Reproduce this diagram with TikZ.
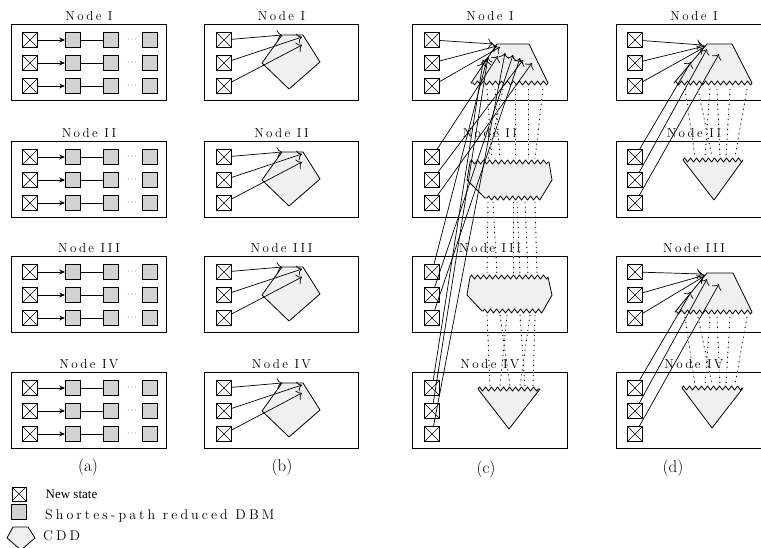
\documentclass[tikz,border=0pt]{standalone}
\usepackage{fontspec}
\setmainfont{Latin Modern Roman}
\newfontfamily\legendfont{Liberation Serif}
\newfontfamily\spacedfont[LetterSpace=18]{Latin Modern Roman}
\newfontfamily\keyspaced[LetterSpace=22]{Latin Modern Roman}
\usetikzlibrary{arrows.meta, positioning, decorations.pathmorphing}
\newcommand{\nodefont}{\spacedfont\fontsize{13}{15}\selectfont}
\newcommand{\keyfont}{\keyspaced\fontsize{14}{16}\selectfont}

\begin{document}
\begin{tikzpicture}[x=1pt, y=-1pt,
    every node/.style={inner sep=0pt},
    nodebox/.style={draw, line width=1pt, minimum width=155, minimum height=76, anchor=north west},
    boxtitle/.style={above=3pt, font=\nodefont},
    crossbox/.style={draw, line width=0.9pt, minimum size=15, path picture={
        \draw[line width=0.6pt] (path picture bounding box.north west) -- (path picture bounding box.south east)
                                (path picture bounding box.north east) -- (path picture bounding box.south west);}},
    dbm/.style={draw, fill=gray!35, line width=0.9pt, minimum size=15},
    cdd/.style={draw, line width=0.8pt, fill=gray!12, line join=round},
    zz/.style={decoration={zigzag, segment length=6pt, amplitude=2pt}},
    link/.style={-{Stealth[length=6pt, width=5pt]}, line width=0.8pt},
    chain/.style={line width=0.8pt},
    ptr/.style={-{To[length=5pt]}, line width=0.7pt},
    share/.style={line width=0.9pt, dash pattern=on 1pt off 4pt, preaction={draw=gray!35, solid, line width=0.4pt}},
    caption/.style={font=\fontsize{17}{19}\selectfont}
]
\useasboundingbox (0,0) rectangle (761,548);
\clip (0,0) rectangle (761,548);

% four machines, one row of boxes each
\foreach \ty/\n [count=\i] in {24/I,141/II,256/III,372/IV} {
    % (a) plain DBM lists
    \node[nodebox] (a\i) at (11,\ty) {};
    \node[boxtitle] (a\i-title) at (a\i.north) {Node \n};
    \foreach \r [count=\j] in {16,39,62} {
        \node[crossbox] (a\i-s\j) at (30,{\ty+\r}) {};
        \node[dbm] (a\i-d\j-1) at (73,{\ty+\r}) {};
        \node[dbm] (a\i-d\j-2) at (111,{\ty+\r}) {};
        \node[dbm] (a\i-d\j-3) at (150,{\ty+\r}) {};
        \node[font=\footnotesize] (a\i-dots\j) at (132,{\ty+\r}) {$\cdots$};
        \draw[link] (a\i-s\j) -- (a\i-d\j-1);
        \draw[chain] (a\i-d\j-1) -- (a\i-d\j-2);
    }
    % (b) one local CDD
    \node[nodebox, minimum width=154] (b\i) at (204,\ty) {};
    \node[boxtitle] (b\i-title) at (b\i.north) {Node \n};
    \draw[cdd] (282,{\ty+11}) -- (303,{\ty+11}) -- (320,{\ty+38}) -- (289,{\ty+65}) -- (262,{\ty+39}) -- cycle;
    \coordinate (b\i-h1) at (282,{\ty+11});
    \coordinate (b\i-h2) at (302,{\ty+13});
    \coordinate (b\i-h3) at (302,{\ty+21});
    \foreach \r [count=\j] in {16,39,62} {
        \node[crossbox] (b\i-s\j) at (224,{\ty+\r}) {};
        \draw[ptr] (b\i-s\j) -- (b\i-h\j);
    }
    % (c) and (d) boxes
    \node[nodebox] (c\i) at (412,\ty) {};
    \node[boxtitle] (c\i-title) at (c\i.north) {Node \n};
    \node[nodebox] (d\i) at (616,\ty) {};
    \node[boxtitle] (d\i-title) at (d\i.north) {Node \n};
    \foreach \r [count=\j] in {16,39,62} {
        \node[crossbox] (c\i-s\j) at (432,{\ty+\r}) {};
        \node[crossbox] (d\i-s\j) at (635,{\ty+\r}) {};
    }
}

% (c) one CDD spread over all nodes
\draw[cdd] (497,44) -- (529,44) -- (548,83) decorate[zz]{-- (471,83)} -- cycle;
\draw[cdd] (470,162) decorate[zz]{-- (549,162)} -- (552,180) -- (541,198) decorate[zz]{-- (485,198)} -- (467,180) -- cycle;
\draw[cdd] (470,277) decorate[zz]{-- (548,277)} -- (552,295) -- (543,311) decorate[zz]{-- (482,311)} -- (467,295) -- cycle;
\draw[cdd] (478,389) decorate[zz]{-- (540,389)} -- (509,429) -- cycle;

% (d) one CDD per pair of nodes
\draw[cdd] (707,44) -- (732,44) -- (752,83) decorate[zz]{-- (674,83)} -- cycle;
\draw[cdd] (683,160) decorate[zz]{-- (743,160)} -- (714,200) -- cycle;
\draw[cdd] (707,273) -- (733,273) -- (752,312) decorate[zz]{-- (675,312)} -- cycle;
\draw[cdd] (682,388) decorate[zz]{-- (743,388)} -- (712,428) -- cycle;

% new states into the shared CDD
\foreach \s/\x/\y in {c1-s1/493/44, c1-s2/497/46, c1-s3/500/47,
                      c2-s1/498/56, c2-s2/523/60, c2-s3/532/63,
                      c3-s1/487/59, c3-s2/513/55, c3-s3/520/58,
                      c4-s1/483/62, c4-s2/488/57, c4-s3/505/53,
                      d1-s1/702/45, d1-s2/705/46, d1-s3/703/48,
                      d2-s1/691/62, d2-s2/707/49, d2-s3/719/54,
                      d3-s1/702/274, d3-s2/705/275, d3-s3/703/277,
                      d4-s1/691/292, d4-s2/707/279, d4-s3/719/284} {
    \coordinate (\s-tip) at (\x,\y);
    \draw[ptr] (\s) -- (\s-tip);
}

% pointers between the CDD parts
\foreach \xa/\xb in {487/492, 495/500, 503/488, 515/515, 528/528, 543/535}
    \draw[share] (\xa,89) -- (\xb,159);
\foreach \xa/\xb in {488/487, 493/497, 513/513, 517/520, 525/528, 535/537}
    \draw[share] (\xa,202) -- (\xb,274);
\foreach \xa/\xb in {487/490, 500/510, 507/500, 520/525, 530/520, 535/533}
    \draw[share] (\xa,315) -- (\xb,386);
\foreach \xa/\xb in {685/695, 698/712, 710/705, 717/720, 730/726, 747/735} {
    \draw[share] (\xa,89) -- (\xb,157);
    \draw[share] (\xa,317) -- (\xb,385);
}

% captions
\node[caption] (cap-a) at (88,467) {(a)};
\node[caption] (cap-b) at (282,467) {(b)};
\node[caption] (cap-c) at (486,469) {(c)};
\node[caption] (cap-d) at (673,468) {(d)};

% legend
\node[crossbox, minimum size=14] (key-new) at (19,494) {};
\node[right=19pt of key-new, font=\legendfont\fontsize{13}{15}\selectfont] (key-new-text) {New state};
\node[dbm] (key-dbm) at (19,512) {};
\node[right=18pt of key-dbm, yshift=-4pt, font=\keyfont] (key-dbm-text) {Shortes-path reduced DBM};
\draw[cdd] (13,527) -- (28,527) -- (35,538) -- (21,550) -- (7,538) -- cycle;
\node[anchor=west, font=\keyfont] (key-cdd-text) at (43,536) {CDD};

\end{tikzpicture}
\end{document}
